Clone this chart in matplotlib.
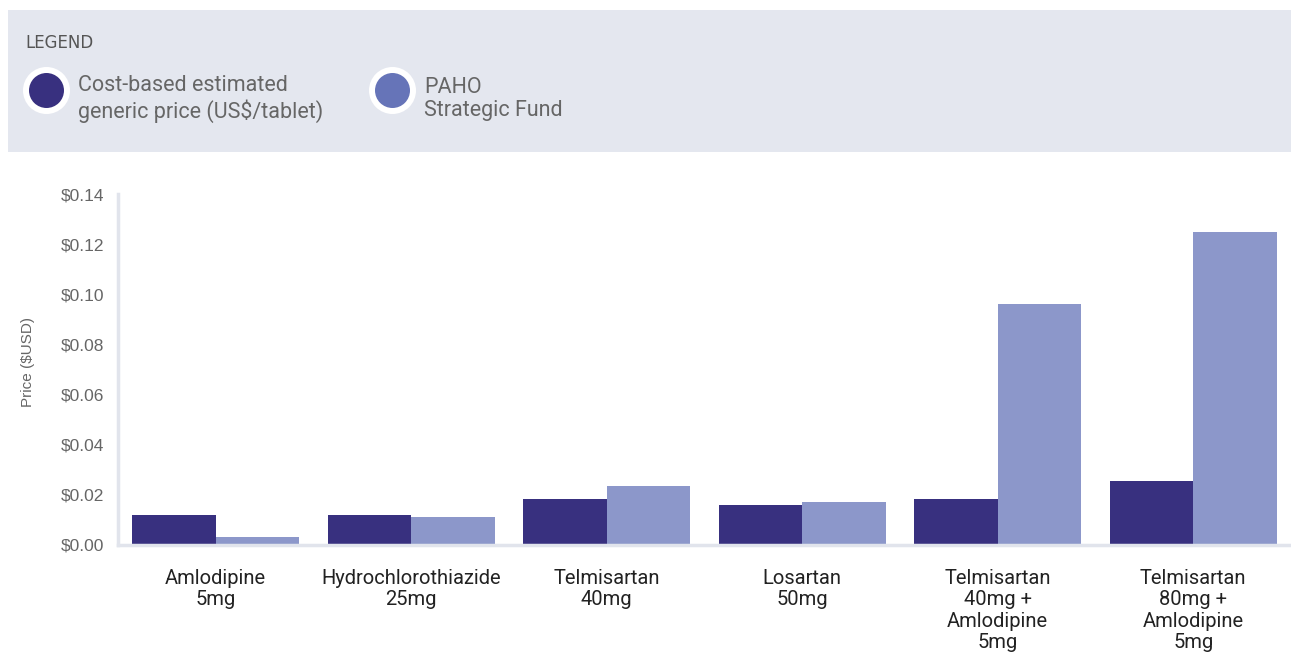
import matplotlib.pyplot as plt
import numpy as np
from matplotlib.patches import Rectangle

drugs = ['Amlodipine\n5mg', 'Hydrochlorothiazide\n25mg', 'Telmisartan\n40mg',
         'Losartan\n50mg', 'Telmisartan\n40mg +\nAmlodipine\n5mg',
         'Telmisartan\n80mg +\nAmlodipine\n5mg']
cost_based = [0.012, 0.012, 0.0185, 0.016, 0.0185, 0.0255]
paho = [0.003, 0.011, 0.0235, 0.017, 0.096, 0.125]
yticks = [0.0, 0.02, 0.04, 0.06, 0.08, 0.10, 0.12, 0.14]
legend_labels = ['Cost-based estimated\ngeneric price (US$/tablet)', 'PAHO\nStrategic Fund']

dark = '#38307f'
light = '#8c97ca'
light_marker = '#6674b8'
grey = '#666666'

W, H = 1291, 668
fig = plt.figure(figsize=(W / 100, H / 100), dpi=100)

# legend panel drawn in pixel coords
bg = fig.add_axes([0, 0, 1, 1], zorder=0)
bg.set_xlim(0, W)
bg.set_ylim(H, 0)
bg.axis('off')
bg.add_patch(Rectangle((8, 10), W - 8, 142, color='#e4e7ef', lw=0))
bg.text(25, 43, 'LEGEND', fontsize=12, color='#555555', va='center',
        family=['Liberation Sans Narrow', 'DejaVu Sans'])
for x0, col, lab in [(46, dark, legend_labels[0]), (392, light_marker, legend_labels[1])]:
    bg.scatter([x0], [90], s=1145, color='white', lw=0)
    bg.scatter([x0], [90], s=635, color=col, lw=0)
    bg.text(x0 + 32, 99, lab, fontsize=15.5, color=grey, va='center',
            linespacing=1.15, family='Roboto')

ax = fig.add_axes([118 / W, (H - 545) / H, 1 - 118 / W, (545 - 194) / H], zorder=1)
ax.patch.set_alpha(0)
x = np.arange(len(drugs))
w = 0.428
ax.bar(x - w / 2, cost_based, w, color=dark)
ax.bar(x + w / 2, paho, w, color=light)

ax.set_xlim(-0.5, len(drugs) - 0.5)
ax.set_ylim(0, 0.14)
ax.set_yticks(yticks)
ax.set_yticklabels([f'${v:.2f}' for v in yticks], family='Liberation Sans',
                   fontsize=12.5, color=grey)
ax.set_xticks(x)
ax.set_xticklabels(drugs, family='Roboto', fontsize=14.5, color='#222222',
                   linespacing=1.17, va='top')
ax.tick_params(length=0)
ax.tick_params(axis='y', pad=10)
ax.tick_params(axis='x', pad=17)
for s in ['top', 'right']:
    ax.spines[s].set_visible(False)
for s in ['left', 'bottom']:
    ax.spines[s].set_color('#e1e4ec')
    ax.spines[s].set_linewidth(2.5)
ax.set_ylabel('Price ($USD)', fontsize=11, color=grey, family='Liberation Sans')
ax.yaxis.set_label_coords(-0.071, 0.52)

fig.savefig('out.png', dpi=100)
